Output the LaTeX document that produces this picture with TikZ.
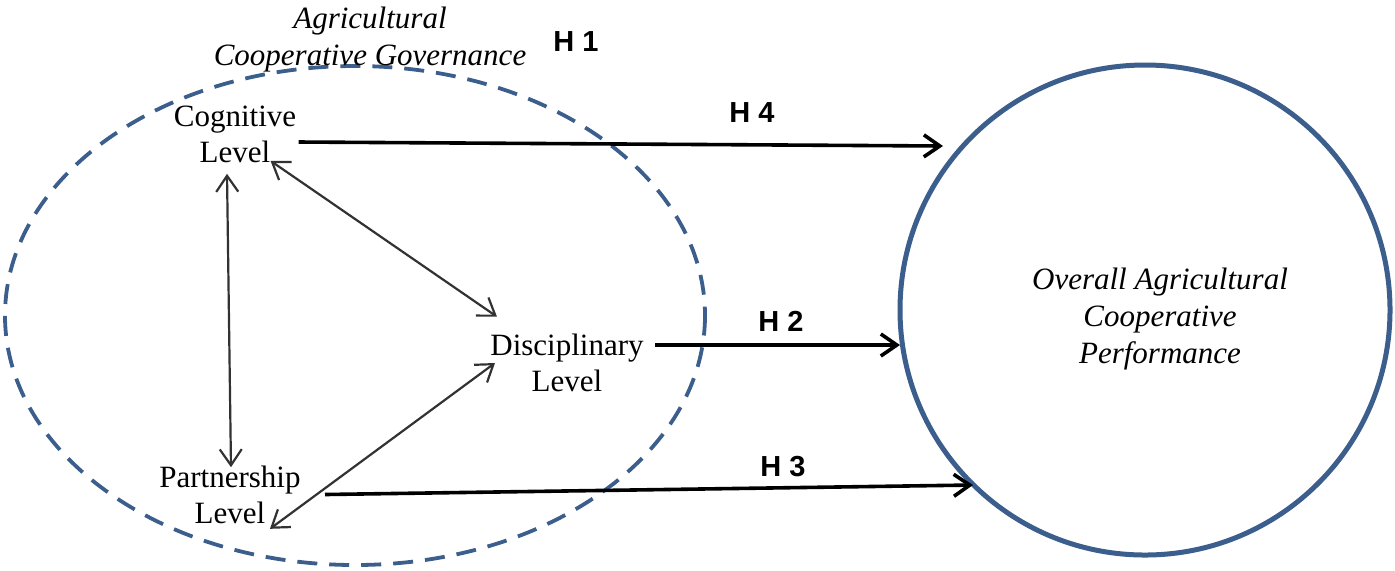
\documentclass[tikz,border=0pt]{standalone}
\usepackage{fontspec}
\setmainfont{Liberation Serif}
\newfontfamily\hfont{Liberation Sans}
\usetikzlibrary{arrows.meta}
\definecolor{ringblue}{RGB}{59,94,140}
\definecolor{innergray}{RGB}{50,50,50}
\begin{document}
\begin{tikzpicture}[x=0.5pt,y=-0.5pt,
  lbl/.style={inner sep=0pt,align=center,font=\fontsize{15.5pt}{18pt}\selectfont},
  ilbl/.style={inner sep=0pt,align=center,font=\fontsize{15.5pt}{18.5pt}\selectfont\itshape},
  hlbl/.style={inner sep=0pt,font=\hfont\bfseries\fontsize{14.5pt}{16pt}\selectfont},
  hyparrow/.style={line width=1.8pt,-{Straight Barb[length=8pt,width=11pt,line width=1.8pt]}},
  innerarrow/.style={line width=1.1pt,innergray,{Straight Barb[length=8pt,width=11pt,line width=1.1pt]}-{Straight Barb[length=8pt,width=11pt,line width=1.1pt]}}]
\useasboundingbox (0,0) rectangle (1395,570);
% governance ellipse
\draw[ringblue,line width=1.9pt,dash pattern=on 10pt off 6pt] (355,315.5) ellipse [x radius=350,y radius=249.5];
% performance circle
\node[draw=ringblue,line width=2.5pt,circle,minimum size=245pt,inner sep=0pt] (perf) at (1145,310) {};
\node[ilbl] (perftxt) at (1160,319) {Overall Agricultural\\Cooperative\\Performance};
% titles
\node[ilbl] (gov) at (370,39.5) {Agricultural\\Cooperative Governance};
\node[hlbl] (h1) at (576,42) {H 1};
% level nodes
\node[lbl] (cog) at (235,134) {Cognitive\\Level};
\node[lbl] (disc) at (567,363) {Disciplinary\\Level};
\node[lbl] (part) at (230,494.5) {Partnership\\Level};
% arrow tips at the performance circle
\coordinate (t4) at (943,146);
\coordinate (t2) at (900,345);
\coordinate (t3) at (973,485);
% hypothesis arrows
\draw[hyparrow] ([shift={(1pt,-4pt)}]cog.east) -- (t4);
\draw[hyparrow] ([shift={(5.5pt,9pt)}]disc.east) -- (t2);
\draw[hyparrow] ([shift={(12pt,0pt)}]part.east) -- (t3);
\node[hlbl] (h4) at (752,113) {H 4};
\node[hlbl] (h2) at (781,321) {H 2};
\node[hlbl] (h3) at (783,467) {H 3};
% inner relations
\draw[innerarrow] ([shift={(-4pt,-5.5pt)}]cog.south) -- ([shift={(0.5pt,-1pt)}]part.north);
\draw[innerarrow] ([shift={(-13pt,1pt)}]cog.south east) -- ([shift={(3.5pt,8.5pt)}]disc.north west);
\draw[innerarrow] ([shift={(-15.5pt,-2.5pt)}]part.south east) -- ([shift={(2.5pt,0pt)}]disc.west);
\end{tikzpicture}
\end{document}
